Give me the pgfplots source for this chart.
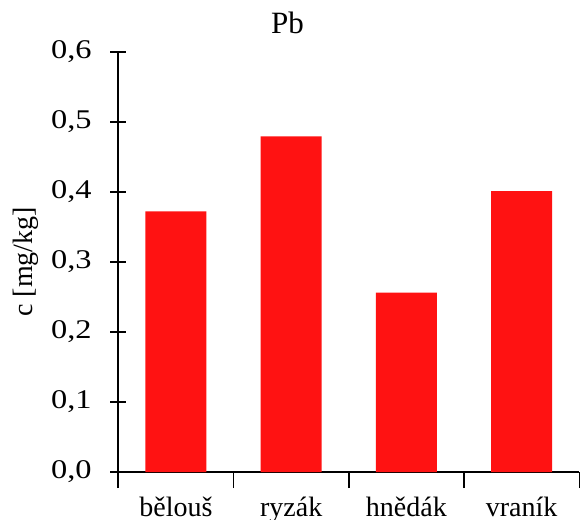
\documentclass[border=0pt]{standalone}
\usepackage{pgfplots}
\pgfplotsset{compat=1.18}
\usepackage{fontspec}
\setmainfont{Liberation Serif}

\definecolor{barred}{RGB}{255,18,18}

\begin{document}
\begin{tikzpicture}
\begin{axis}[
    name=ax,
    scale only axis,
    width=461pt, height=420.3pt,
    xmin=0.5, xmax=4.5,
    ymin=0, ymax=0.6,
    axis x line=bottom, axis y line=left,
    axis line style={-, line width=1.6pt},
    tick style={black, line width=1.6pt},
    tick align=center,
    major tick length=16pt,
    minor tick length=16pt,
    xtick={1,2,3,4},
    xticklabels={bělouš, ryzák, hnědák, vraník},
    major x tick style={draw=none},
    minor xtick={0.5,1.5,2.5,3.5,4.5},
    ytick={0,0.1,...,0.6},
    /pgf/number format/.cd, fixed, fixed zerofill, precision=1, use comma, assume math mode=true,
    /pgfplots/.cd,
    xticklabel style={font=\fontsize{28}{34}\selectfont, yshift=-5pt},
    yticklabel style={font=\fontsize{27}{32}\selectfont, xscale=1.2, xshift=-12pt},
    ylabel={c [mg/kg]},
    ylabel style={font=\fontsize{28}{34}\selectfont, at={(axis description cs:-0.2,0.5)}, anchor=center},
    title={Pb},
    title style={font=\fontsize{31}{36}\selectfont, at={(0.367,1)}, anchor=base, yshift=12pt},
    ybar, bar width=61pt,
]
\addplot[fill=barred, draw=none] coordinates {(1,0.372) (2,0.479) (3,0.256) (4,0.401)};
\end{axis}
\pgfresetboundingbox
\path[use as bounding box] ([shift={(-118.3pt,-47pt)}]ax.south west) rectangle ([shift={(464.7pt,472pt)}]ax.south west);
\end{tikzpicture}
\end{document}
